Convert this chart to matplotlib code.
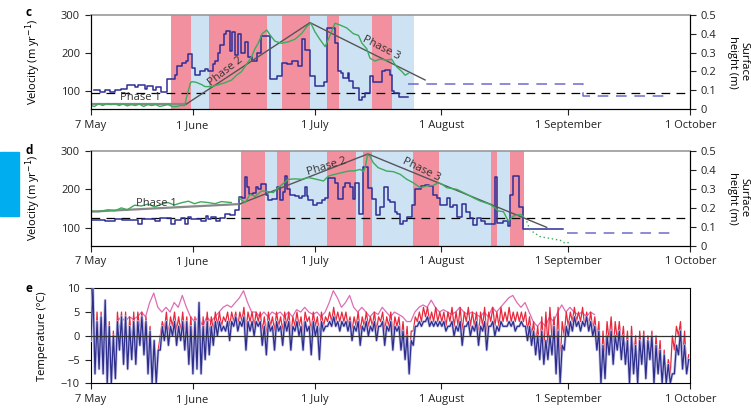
"""Ice velocity, surface height and air temperature, 7 May - 1 October (panels c, d, e)."""

import matplotlib
matplotlib.use("Agg")
import matplotlib.pyplot as plt
import numpy as np
from matplotlib.patches import Rectangle

plt.rcParams["font.family"] = ["Open Sans", "DejaVu Sans"]
plt.rcParams["font.size"] = 8

# ---- x axis: days since 7 May ----
TICK_DAYS = [0, 25, 55, 86, 117, 147]
TICK_LABELS = ["7 May", "1 June", "1 July", "1 August", "1 September", "1 October"]

# ---- shading: melt (pink) / cold (blue) periods ----
C_BANDS = [(19.7, 24.6, "melt"), (24.6, 29.0, "cold"), (29.0, 43.2, "melt"),
           (43.2, 46.9, "cold"), (46.9, 53.8, "melt"), (53.8, 58.0, "cold"),
           (58.0, 60.8, "melt"), (60.8, 68.9, "cold"), (68.9, 74.0, "melt"),
           (74.0, 79.2, "cold")]
D_BANDS = [(36.9, 42.8, "melt"), (42.8, 45.7, "cold"), (45.7, 48.8, "melt"),
           (48.8, 58.0, "cold"), (58.0, 65.1, "melt"), (65.1, 66.7, "cold"),
           (66.7, 68.9, "melt"), (68.9, 79.0, "cold"), (79.0, 85.4, "melt"),
           (85.4, 98.1, "cold"), (98.1, 99.7, "melt"), (99.7, 102.8, "cold"),
           (102.8, 106.2, "melt")]

# ---- panel c: velocity (step) ----
C_VEL_DAY = [0.8, 2.25, 3.6, 4.9, 5.9, 7.55, 9.0, 10.8, 11.6, 13.3, 13.9, 15.3, 16.1,
             17.2, 18.8, 20.8, 21.3, 22.5, 23.3, 23.9, 24.9, 25.5, 26.8, 28.06, 28.9,
             29.9, 30.5, 31.2, 31.7, 32.6, 33.1, 34.2, 34.8, 35.4, 36.2, 37.0, 37.9,
             38.5, 39.5, 40.7, 41.8, 44.0, 45.6, 46.9, 48.1, 49.3, 50.9, 51.8, 52.6,
             53.8, 55.0, 57.2, 58.0, 59.9, 60.7, 61.5, 62.0, 63.0, 63.4, 64.4, 65.7,
             66.5, 67.3, 68.5, 69.3, 70.2, 71.4, 72.2, 73.3, 73.8, 74.4, 75.5, 76.3, 77.9]
C_VEL = [103, 99, 103, 99, 103, 107, 116, 111, 116, 107, 113, 103, 111, 99, 132, 143,
         166, 173, 178, 198, 160, 143, 154, 158, 152, 172, 180, 200, 222, 250, 258, 205,
         255, 195, 250, 200, 228, 190, 180, 200, 245, 131, 139, 173, 170, 178, 165, 236,
         208, 139, 114, 123, 265, 225, 152, 148, 134, 148, 126, 108, 78, 86, 95, 139,
         123, 125, 152, 155, 143, 100, 95, 85, 86, 86]
C_VEL_GAP_DAY = [77.8, 120.7, 120.7, 142.0]
C_VEL_GAP = [120, 120, 89, 89]
C_BASE_VEL = 95

# ---- panel c: surface height ----
C_H_DAY = [0, 1, 2, 3, 4, 5, 6, 7, 8, 9, 10, 11, 12, 13, 14, 15, 16, 17, 18, 19, 20, 21,
           22, 23.1, 23.5, 23.9, 24.5, 24.9, 26, 27.3, 28.06, 29.7, 31.3, 32.9, 34.6,
           35.8, 37.0, 38.3, 39.5, 40.3, 41.1, 42.1, 43.2, 44.0, 45.2, 46.8, 48.5, 50.1,
           51.8, 53.0, 54.0, 55.0, 56.2, 57.5, 58.7, 59.9, 61.2, 62.8, 64.4, 65.7, 66.5,
           67.7, 68.5, 69.7, 70.9, 72.6, 73.8, 75.0, 76.3, 77.1, 77.9]
C_H = [0.02, 0.015, 0.03, 0.02, 0.03, 0.025, 0.03, 0.02, 0.028, 0.018, 0.025, 0.02,
       0.028, 0.015, 0.025, 0.02, 0.025, 0.015, 0.02, 0.025, 0.015, 0.014, 0.02, 0.02,
       0.06, 0.093, 0.14, 0.146, 0.142, 0.13, 0.12, 0.12, 0.13, 0.14, 0.155, 0.18, 0.199,
       0.24, 0.278, 0.32, 0.349, 0.40, 0.419, 0.393, 0.36, 0.349, 0.357, 0.37, 0.402,
       0.437, 0.455, 0.41, 0.37, 0.331, 0.39, 0.455, 0.445, 0.43, 0.40, 0.39, 0.35, 0.32,
       0.27, 0.255, 0.265, 0.26, 0.265, 0.225, 0.20, 0.18, 0.19]
C_PHASE_DAY = [0, 23.5, 53.8, 82.0]
C_PHASE_H = [0.028, 0.028, 0.458, 0.155]

# ---- panel d: velocity (step) ----
D_VEL_DAY = [0.2, 3.5, 5.9, 7.6, 11.6, 12.5, 15.7, 17.0, 19.8, 20.8,
             22.3, 23.1, 23.9, 24.7, 27.2, 28.2, 28.8, 29.6, 30.8, 31.7,
             32.9, 34.1, 35.3, 36.4, 37.05, 37.9, 38.3, 38.8, 39.9, 40.5,
             41.0, 41.8, 42.9, 43.6, 44.4, 45.6, 46.4, 47.1, 47.7, 48.1,
             48.9, 50.1, 51.1, 51.8, 52.6, 53.0, 53.4, 54.6, 55.4, 56.7,
             57.5, 58.1, 59.9, 60.7, 61.97, 62.4, 63.6, 64.4, 64.8, 65.8,
             66.9, 68.1, 68.9, 69.9, 70.95, 71.9, 72.8, 73.4, 74.6, 75.2,
             75.9, 76.7, 77.5, 78.7, 79.5, 80.9, 82.0, 83.0, 84.0, 84.9,
             85.7, 87.3, 88.1, 88.9, 89.9, 91.0, 92.0, 92.9, 93.7, 94.8,
             95.6, 96.7, 99.1, 99.7, 101.2, 102.2, 102.8, 103.6, 105.1, 106.1, 115.9]
D_VEL = [120, 117, 121, 120, 109, 122, 117, 124, 108, 120,
         124, 110, 127, 122, 117, 130, 122, 127, 117, 125,
         135, 132, 145, 179, 176, 231, 205, 188, 190, 205,
         200, 214, 184, 171, 175, 205, 171, 193, 235, 201,
         186, 181, 176, 181, 205, 181, 171, 158, 163, 171,
         176, 228, 215, 175, 205, 215, 205, 175, 217, 134,
         258, 202, 175, 133, 154, 205, 171, 167, 141, 134,
         109, 117, 128, 158, 201, 209, 211, 209, 184, 176,
         158, 176, 154, 158, 128, 160, 141, 124, 107, 124,
         117, 110, 231, 111, 117, 103, 184, 235, 154, 95, 95]
D_VEL_GAP_DAY = [116.7, 142.0]
D_VEL_GAP = [86, 86]
D_BASE_VEL = 124

# ---- panel d: surface height ----
D_H1_DAY = [0, 2, 4.3, 6, 7.55, 9, 10.8, 12.5, 14.1, 15.7, 17.5, 19.0, 20.5, 22.3, 24,
            25.5, 27, 28.8, 30.5, 32.1, 34.5]
D_H1 = [0.184, 0.18, 0.19, 0.185, 0.20, 0.19, 0.214, 0.21, 0.22, 0.205, 0.22, 0.228,
        0.215, 0.227, 0.235, 0.222, 0.232, 0.228, 0.222, 0.233, 0.228]
D_H2_DAY = [36.3, 37.9, 39.1, 40.3, 41.96, 43.6, 44.8, 46.0, 47.3, 48.5,
            50.1, 51.8, 53.4, 55.0, 57.1, 58.3, 59.9, 61.6, 63.2, 64.8,
            66.1, 66.9, 67.4, 67.9, 68.5, 69.3, 70.5, 71.8, 72.6, 74.2,
            75.9, 77.5, 79.1, 80.8, 82.4, 84.0, 85.3, 86.1, 87.3, 89.8,
            92.3, 93.8, 95.5, 97.9, 99.1, 99.9, 101.2, 102.4, 103.6, 105.3, 106.1]
D_H2 = [0.253, 0.227, 0.271, 0.26, 0.289, 0.285, 0.28, 0.306, 0.329, 0.35,
        0.352, 0.35, 0.359, 0.352, 0.341, 0.367, 0.376, 0.385, 0.393, 0.395,
        0.402, 0.39, 0.42, 0.48, 0.47, 0.437, 0.411, 0.40, 0.393, 0.39,
        0.376, 0.35, 0.332, 0.306, 0.315, 0.318, 0.332, 0.325, 0.306, 0.297,
        0.271, 0.253, 0.236, 0.219, 0.201, 0.184, 0.18, 0.131, 0.157, 0.166, 0.155]
D_H3_DAY = [106.9, 107.7, 110.2, 112.6, 115.1, 116.3, 117.5]
D_H3 = [0.13, 0.084, 0.049, 0.04, 0.03, 0.014, 0.02]
D_PHASE_DAY = [0, 36.5, 68.0, 111.8]
D_PHASE_H = [0.18, 0.22, 0.483, 0.098]

# ---- panel e: temperature, daily high / low (deg C), days 0..146 ----
BLUE_HI = [10, 3, 4, 7.5, 2, 0, 3, 4, 4, 2,
           3, 3, 4, 3, 1, -1, -3, 2, 3, 2,
           3, 2, 3, 3, 2, 3, 7, 2, 3, 2,
           3, 3, 2, 3, 3, 4, 3, 4, 3, 3,
           3, 3, 2, 3, 2, 3, 2, 3, 3, 2,
           3, 2, 3, 2, 3, 2, 3, 2, 3, 4,
           3, 3, 3, 3, 2, 3, 2, 3, 2, 3,
           2, 3, 2, 3, 2, 2, 1, 0, -1, 2,
           3, 3, 4, 3, 3, 3, 3, 2, 3, 2,
           3, 2, 3, 2, 3, 2, 3, 2, 3, 2,
           3, 2, 3, 3, 2, 3, 2, 2, 1, 0,
           1, -1, 0, 2, 1, -2, 2, 3, 4, 3,
           3, 4, 3, 2, 1, -2, 0, 1, 0, 1,
           0, -1, 0, -2, -1, 0, -1, 0, -2, -3,
           -4, -6, -8, -2, 1, -2, -5]
BLUE_LO = [-1, -8, -7, -8, -10, -10, -9, -3, -6, -7,
           -5, -6, -2, -4, -8, -10, -10, -3, -1, -2,
           0, -2, -1, -3, -6, -8, -7, -8, -5, -4,
           -2, 0, 1, 1, -1, 2, 1, 2, -3, 1,
           0, 2, -2, -4, 1, -3, 1, -2, 1, -3,
           1, 0, -3, 1, -4, 0, -5, 1, 2, 2,
           2, 1, 2, 1, -1, 1, -2, 1, 0, 1,
           -1, 2, -2, 1, -3, 1, -3, -5, -8, -2,
           2, 2, 3, 2, 2, 2, 2, 1, 2, 0,
           1, -2, 2, 0, 1, -2, 1, -3, 2, 0,
           1, 2, 2, 2, 1, 2, 2, -1, -2, -4,
           -5, -6, -5, -4, -8, -10, -3, 0, 1, 2,
           1, 2, 1, 0, -3, -10, -9, -4, -6, -3,
           -5, -6, -10, -8, -10, -6, -9, -5, -10, -8,
           -10, -10, -10, -8, -4, -7, -8]
RED_HI = [10, 5, 5, 6, 3, 1, 5, 5, 5, 4,
          5, 5, 5, 4, 2, -1, -3, 3, 5, 4,
          5, 4, 5, 4, 4, 4, 5, 4, 5, 4,
          5, 5, 4, 5, 5, 5, 5, 6, 5, 5,
          5, 5, 4, 5, 4, 5, 4, 5, 5, 4,
          5, 4, 5, 4, 5, 4, 5, 4, 5, 6,
          5, 5, 5, 4, 4, 5, 4, 5, 4, 5,
          4, 5, 4, 5, 4, 4, 3, 2, 1, 4,
          5, 6, 6, 5, 6, 5, 5, 5, 6, 5,
          6, 5, 6, 5, 5, 5, 6, 5, 6, 5,
          6, 5, 6, 5, 5, 5, 5, 4, 3, 2,
          4, 5, 6, 4, 6, 3, 5, 5, 6, 5,
          6, 5, 5, 4, 3, 1, 3, 4, 3, 3,
          2, 1, 2, 0, 1, 1, 0, 1, 0, -1,
          -3, -5, 0, 2, 3, 1, -4]
RED_LO = [0, -6, -5, -6, -8, -10, -6, 0, -3, -4,
          -2, -3, 1, -1, -3, -10, -10, 0, 1, 0,
          2, 1, 1, 0, -2, -4, -3, -5, -2, 0,
          1, 2, 2, 3, 2, 3, 2, 3, 1, 3,
          2, 3, 1, 0, 2, 1, 2, 1, 2, 0,
          2, 2, 0, 3, 1, 2, 0, 2, 3, 3,
          3, 3, 3, 2, 1, 2, 1, 2, 2, 2,
          1, 3, 1, 2, 0, 2, -1, -3, -6, 1,
          3, 3, 4, 3, 3, 3, 3, 2, 3, 2,
          2, 1, 3, 2, 2, 0, 2, 0, 3, 2,
          2, 3, 3, 3, 3, 3, 3, 1, 0, -2,
          -3, -3, -2, -1, -4, -6, 0, 2, 3, 3,
          3, 2, 2, 1, -1, -8, -5, -1, -3, -1,
          -2, -4, -7, -5, -8, -4, -6, -3, -8, -6,
          -10, -10, -8, -3, 0, -5, -7]
PINK_FIRST_DAY = 6
PINK = [3, 4, 3, 4, 3.5, 4, 5, 4, 7, 9,
        6, 5, 6, 5, 7, 6, 8.5, 6, 4, 3,
        4, 2, 4, 3, 4, 5, 6, 6.5, 6, 7,
        8, 9.5, 7, 5, 5, 4, 5, 4, 5, 4.5,
        5, 4, 5, 4, 5.5, 5, 6, 5, 4.5, 5,
        4, 5, 7, 9.5, 8, 6, 7, 8.5, 6, 5,
        6, 5, 4, 5, 4.5, 6, 5, 4, 5, 4.5,
        4, 3, 3, 5, 6, 6.5, 6, 7.5, 6, 5,
        5.5, 5, 4.5, 5, 6, 5, 4.5, 5, 4.5, 4,
        5, 4, 6, 5, 6, 7, 8, 8.5, 7, 6,
        7, 5, 3, 2, 3, 2, 4, 3, 5, 6.5,
        5, 6, 5, 4.5, 5, 4, 5, 4.5]

MELT = "#F3909F"
COLD = "#CDE3F4"
VEL_BLUE = "#2E2E96"
GREEN = "#3DAA5C"
PHASE = "#555555"
W, H = 751, 408


def box(left, top, right, bottom):
    return [left / W, 1 - bottom / H, (right - left) / W, (bottom - top) / H]


def time_axis(ax):
    ax.set_xlim(0, 147)
    ax.set_xticks(TICK_DAYS)
    ax.set_xticklabels(TICK_LABELS)
    ax.tick_params(direction="out", length=4, width=0.8, labelsize=8, colors="#222222")
    for s in ("left", "bottom", "right"):
        ax.spines[s].set_linewidth(0.8)


def velocity_panel(ax, bands, vel_day, vel, gap_day, gap, base, ylim):
    for a, b, kind in bands:
        ax.axvspan(a, b, color=MELT if kind == "melt" else COLD, lw=0, zorder=0)
    ax.axhline(base, color="k", ls=(0, (7, 5)), lw=0.9, zorder=2)
    ax.step(vel_day, vel, where="post", color=VEL_BLUE, lw=1.1, zorder=3)
    ax.plot(gap_day, gap, color="#6C6CCC", ls=(0, (7, 5)), lw=1.1, zorder=3)
    ax.set_ylim(*ylim)
    ax.set_yticks([100, 200, 300])
    ax.set_ylabel("Velocity (m yr$^{-1}$)", fontsize=8)
    ax.yaxis.set_label_coords(-0.079, 0.5)
    ax.spines["top"].set_color("#999999")
    ax.spines["top"].set_linewidth(1.2)
    time_axis(ax)
    tw = ax.twinx()
    tw.set_ylim(0, 0.5)
    tw.set_yticks([0, 0.1, 0.2, 0.3, 0.4, 0.5])
    tw.set_yticklabels(["0", "0.1", "0.2", "0.3", "0.4", "0.5"])
    tw.tick_params(direction="out", length=4, width=0.8, labelsize=8, colors="#222222")
    tw.spines["top"].set_visible(False)
    tw.spines["right"].set_linewidth(0.8)
    return tw


fig = plt.figure(figsize=(W / 100, H / 100), dpi=100)

# panel c
ax_c = fig.add_axes(box(90.5, 14.7, 690.3, 109.3))
tw_c = velocity_panel(ax_c, C_BANDS, C_VEL_DAY, C_VEL, C_VEL_GAP_DAY, C_VEL_GAP,
                      C_BASE_VEL, (53, 300))
tw_c.plot(C_PHASE_DAY[:2], C_PHASE_H[:2], color="#888888", lw=1.6)
tw_c.plot(C_PHASE_DAY[1:], C_PHASE_H[1:], color=PHASE, lw=1.0)
tw_c.plot(C_H_DAY, C_H, color=GREEN, lw=1.0)
tw_c.text(12.3, 0.061, "Phase 1", ha="center", va="center", fontsize=8, color="#333333")
tw_c.text(33.0, 0.20, "Phase 2", ha="center", va="center", fontsize=8, rotation=38,
          color="#333333")
tw_c.text(71.2, 0.324, "Phase 3", ha="center", va="center", fontsize=8, rotation=-27,
          color="#333333")

# panel d
ax_d = fig.add_axes(box(90.5, 150.7, 690.3, 246.0))
tw_d = velocity_panel(ax_d, D_BANDS, D_VEL_DAY, D_VEL, D_VEL_GAP_DAY, D_VEL_GAP,
                      D_BASE_VEL, (52, 300))
tw_d.plot(D_PHASE_DAY[:2], D_PHASE_H[:2], color="#888888", lw=1.6)
tw_d.plot(D_PHASE_DAY[1:], D_PHASE_H[1:], color=PHASE, lw=1.0)
tw_d.plot(D_H1_DAY, D_H1, color=GREEN, lw=1.0)
tw_d.plot(D_H2_DAY, D_H2, color=GREEN, lw=1.0)
tw_d.plot(D_H3_DAY, D_H3, color=GREEN, lw=1.0, ls=(0, (1, 2)))
tw_d.text(16.1, 0.224, "Phase 1", ha="center", va="center", fontsize=8, color="#333333")
tw_d.text(58.0, 0.416, "Phase 2", ha="center", va="center", fontsize=8, rotation=17,
          color="#333333")
tw_d.text(81.2, 0.402, "Phase 3", ha="center", va="center", fontsize=8, rotation=-26,
          color="#333333")

# panel e
ax_e = fig.add_axes(box(90.5, 288.3, 690.3, 383.3))
days = np.arange(len(BLUE_HI))
t2 = np.column_stack([days + 0.1, days + 0.6]).ravel()
blue_t = np.column_stack([BLUE_LO, BLUE_HI]).ravel()
red_t = np.column_stack([RED_LO, RED_HI]).ravel()
pink_days = PINK_FIRST_DAY + np.arange(len(PINK)) + 0.5
ax_e.plot(pink_days, PINK, color="#DE6DB4", lw=0.9, zorder=2)
ax_e.plot(t2, red_t, color="#E8283C", lw=0.9, zorder=3)
ax_e.plot(t2, blue_t, color="#C2C2E8", lw=2.0, zorder=4)
ax_e.plot(t2, blue_t, color="#2D2D8C", lw=0.9, zorder=5)
ax_e.axhline(0, color="#333333", lw=0.9, zorder=6)
ax_e.set_ylim(-10, 10)
ax_e.set_yticks([-10, -5, 0, 5, 10])
ax_e.set_ylabel("Temperature (°C)", fontsize=8)
ax_e.yaxis.set_label_coords(-0.071, 0.5)
ax_e.spines["top"].set_linewidth(0.8)
time_axis(ax_e)

# right-hand labels and panel letters
for yc in (62, 198):
    fig.text(738 / W, 1 - yc / H, "Surface\nheight (m)", rotation=270, ha="center",
             va="center", multialignment="center", fontsize=8, linespacing=1.1)
for letter, yc in (("c", 13), ("d", 150), ("e", 288)):
    fig.text(25 / W, 1 - yc / H, letter, fontweight="bold", fontsize=8.5, va="center")

fig.patches.append(Rectangle((0, 1 - 216 / H), 19 / W, 64 / H, transform=fig.transFigure,
                             color="#00AEEF", zorder=0))

fig.savefig("out.png", dpi=100)
